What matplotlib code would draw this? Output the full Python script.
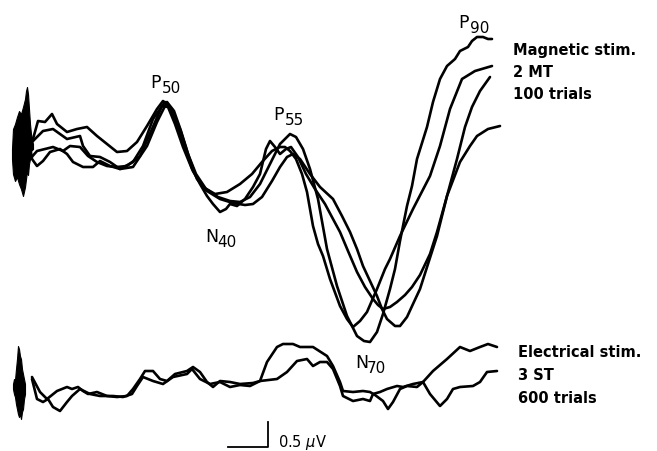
import numpy as np
import matplotlib
matplotlib.use("Agg")
import matplotlib.pyplot as plt

# time in ms after stimulus, amplitude in microvolts

# magnetic stimulation, 2 MT, 100 trials (4 averages)
mag1_t = [3.25, 4.5, 6.25, 8.0, 9.25, 11.75, 14.25, 16.75, 19.25, 21.75, 24.25, 26.75, 29.25, 31.75, 34.25, 35.75,
          37.5, 39.25, 41.25, 43.25, 45.75, 48.75, 51.75, 55.0, 58.0, 60.5, 63.0, 65.0, 66.25, 67.5, 69.0, 70.5,
          71.75, 73.25, 74.5, 75.75, 77.5, 80.0, 81.75, 83.25, 85.0, 86.75, 89.25, 91.25, 92.5, 95.0, 98.25,
          102.5, 105.0, 107.5, 110.5, 113.75, 118.0]
mag1_v = [0.20, 0.56, 0.54, 0.70, 0.50, 0.34, 0.40, 0.44, 0.26, 0.10, -0.06, -0.04, 0.14, 0.46, 0.80, 0.96,
          0.84, 0.50, 0.0, -0.44, -0.76, -0.90, -0.86, -0.70, -0.50, -0.26, -0.04, 0.04, 0.04, -0.04, -0.20, -0.50,
          -0.86, -1.54, -1.90, -2.14, -2.60, -3.14, -3.40, -3.56, -3.44, -3.26, -2.80, -2.40, -2.20, -1.74, -1.20,
          -0.54, 0.06, 0.80, 1.40, 1.56, 1.66]

mag2_t = [3.25, 5.75, 8.25, 11.75, 15.0, 15.75, 17.5, 20.0, 22.5, 25.0, 28.25, 30.75, 33.25, 36.25,
          38.0, 40.0, 42.0, 44.0, 46.5, 49.5, 52.5, 55.0, 57.5, 60.0, 62.5, 65.0, 67.5, 69.0, 70.75, 72.5,
          74.5, 76.75, 79.25, 81.75, 84.25, 86.0, 87.5, 89.25, 90.75, 92.5, 93.75, 95.0, 96.75, 98.0, 99.25,
          101.75, 103.25, 105.0, 106.75, 108.75, 110.0, 112.0, 113.0, 114.25, 115.75, 117.0, 118.0]
mag2_v = [0.16, 0.36, 0.40, 0.20, 0.26, 0.06, -0.14, -0.16, -0.26, -0.40, -0.26, 0.06, 0.60, 0.94,
          0.80, 0.40, -0.10, -0.50, -0.80, -0.96, -1.04, -1.06, -0.96, -0.70, -0.30, 0.10, 0.30, 0.24, 0.0, -0.40,
          -1.00, -2.00, -2.74, -3.34, -3.74, -3.84, -3.86, -3.66, -3.30, -2.80, -2.40, -1.84, -1.14, -0.74, -0.20,
          0.44, 0.94, 1.40, 1.66, 1.80, 1.96, 2.04, 2.16, 2.24, 2.24, 2.20, 2.20]

mag3_t = [2.5, 4.25, 6.25, 8.25, 10.75, 12.5, 15.0, 17.0, 19.25, 21.75, 24.25, 26.75, 30.0, 33.0, 35.5,
          37.0, 38.75, 40.75, 43.0, 45.0, 46.75, 48.25, 50.0, 51.5, 52.5, 54.25, 56.25, 58.25, 60.0, 61.5, 62.5,
          63.75, 65.0, 66.5, 67.75, 69.5, 71.5, 73.75, 76.25, 78.25, 80.0, 82.0, 84.25, 86.25, 88.25, 89.5, 90.75,
          92.5, 94.25, 96.25, 98.0, 100.0, 102.5, 104.25, 106.75, 109.25, 111.25, 113.0, 115.0, 117.5]
mag3_v = [-0.20, -0.04, 0.0, 0.04, -0.04, 0.06, 0.04, -0.14, -0.26, -0.34, -0.36, -0.34, -0.14, 0.40, 0.86,
          0.84, 0.50, 0.04, -0.40, -0.70, -0.94, -1.10, -1.26, -1.20, -1.10, -1.14, -1.00, -0.76, -0.50, 0.0, 0.16,
          0.04, -0.10, 0.0, 0.04, -0.16, -0.50, -0.80, -1.10, -1.40, -1.66, -2.04, -2.46, -2.76, -3.00, -3.12, -3.20,
          -3.16, -3.06, -2.92, -2.76, -2.52, -2.10, -1.66, -0.94, -0.20, 0.44, 0.84, 1.16, 1.44]

mag4_t = [2.5, 3.0, 4.25, 5.75, 7.5, 10.0, 11.75, 13.25, 15.75, 18.25, 20.0, 22.5, 25.0, 28.25, 31.75, 34.25, 36.75,
          38.5, 40.25, 42.25, 44.25, 46.75, 50.0, 53.25, 56.25, 58.25, 60.5, 63.0, 65.0, 66.75, 68.25, 70.0,
          72.5, 75.0, 78.25, 80.5, 82.5, 84.25, 85.75, 87.5, 89.25, 90.5, 91.75, 93.75, 95.0, 96.75, 98.25,
          100.0, 102.0, 104.25, 106.75, 110.0, 112.5, 114.25, 117.0, 120.0]
mag4_v = [0.06, -0.20, -0.34, -0.24, -0.06, 0.0, -0.10, -0.26, -0.36, -0.36, -0.24, -0.34, -0.40, -0.36, 0.06, 0.54, 0.94,
          0.76, 0.36, -0.16, -0.60, -0.84, -1.00, -1.08, -1.12, -1.10, -0.96, -0.64, -0.36, -0.16, -0.10, -0.20,
          -0.50, -0.76, -1.00, -1.34, -1.66, -2.00, -2.34, -2.64, -2.94, -3.20, -3.40, -3.54, -3.54, -3.36, -3.10,
          -2.80, -2.30, -1.74, -0.94, -0.26, 0.06, 0.26, 0.40, 0.46]

# stimulus artifact envelopes
mag_art_t = [-2.0, -1.75, -1.25, -0.75, -0.25, 0.25, 0.75, 1.25, 1.5, 1.75, 2.0, 2.25, 2.5, 2.75, 3.25]
mag_art_hi = [0.0, 0.40, 0.50, 0.64, 0.76, 0.70, 0.84, 1.00, 1.16, 1.24, 1.10, 0.80, 0.50, 0.30, 0.10]
mag_art_lo = [-0.20, -0.50, -0.64, -0.56, -0.70, -0.80, -0.94, -0.76, -0.60, -0.44, -0.52, -0.30, -0.20, -0.04, 0.0]

# electrical stimulation, 3 ST, 600 trials (2 averages)
elec1_t = [3.0, 5.0, 6.75, 9.25, 11.75, 13.0, 14.5, 15.75, 17.0, 19.25, 21.75, 24.25, 26.75, 28.25, 30.0, 31.25,
           33.25, 35.0, 36.75, 38.75, 41.75, 43.25, 45.0, 46.75, 48.25, 50.0, 52.5, 55.0, 58.25, 60.0, 61.75,
           64.25, 65.75, 68.25, 70.0, 73.25, 76.75, 78.25, 80.0, 80.75, 83.25, 85.75, 87.5, 88.75, 90.75, 92.0,
           93.25, 95.0, 96.75, 99.25, 100.75, 103.25, 106.75, 110.0, 112.5, 115.0, 117.0, 119.25]
elec1_v = [0.34, 0.04, -0.10, 0.06, 0.14, 0.10, 0.14, 0.06, 0.0, 0.04, -0.04, -0.06, -0.04, 0.10, 0.30, 0.46,
           0.46, 0.30, 0.26, 0.40, 0.46, 0.54, 0.44, 0.24, 0.14, 0.26, 0.24, 0.20, 0.22, 0.26, 0.64,
           0.94, 1.00, 1.00, 0.94, 0.94, 0.76, 0.56, 0.24, 0.06, 0.04, 0.06, 0.04, -0.02, -0.14, -0.30,
           -0.16, 0.10, 0.16, 0.14, 0.24, 0.46, 0.70, 0.94, 0.86, 0.94, 1.00, 0.94]

elec2_t = [3.0, 4.25, 5.75, 7.0, 8.25, 10.0, 11.75, 13.0, 15.0, 17.5, 20.0, 23.25, 25.75, 28.0, 29.25, 30.75,
           33.25, 35.75, 38.25, 41.75, 43.0, 45.0, 47.5, 50.0, 52.5, 55.0, 57.5, 60.0, 64.25, 66.75, 69.25,
           71.75, 73.25, 75.0, 76.75, 78.25, 80.0, 80.75, 83.25, 85.75, 87.5, 88.25, 90.0, 91.75, 94.25, 95.75,
           98.25, 100.75, 102.5, 105.0, 106.75, 108.25, 110.0, 113.25, 115.0, 116.75, 119.25]
elec2_v = [0.30, -0.10, -0.16, -0.10, -0.26, -0.34, -0.16, -0.04, 0.10, 0.0, -0.04, -0.04, -0.06, 0.0, 0.16, 0.34,
           0.26, 0.20, 0.34, 0.40, 0.50, 0.30, 0.20, 0.24, 0.14, 0.18, 0.16, 0.26, 0.30, 0.44, 0.66,
           0.70, 0.56, 0.64, 0.64, 0.50, 0.16, -0.04, -0.14, -0.10, -0.14, 0.0, 0.04, 0.10, 0.16, 0.14,
           0.20, 0.24, 0.0, -0.24, -0.10, 0.10, 0.14, 0.16, 0.24, 0.44, 0.46]

elec_art_t = [-1.75, -1.5, -1.25, -1.0, -0.75, -0.5, -0.25, 0.0, 0.25, 0.5, 0.75, 1.0, 1.25]
elec_art_hi = [0.20, 0.30, 0.28, 0.50, 0.70, 0.96, 0.90, 0.76, 0.70, 0.50, 0.40, 0.30, 0.20]
elec_art_lo = [0.10, 0.0, -0.06, -0.20, -0.30, -0.40, -0.46, -0.40, -0.50, -0.36, -0.30, -0.10, 0.0]

# component labels: name, subscript, time, amplitude
peaks = [("P", "50", 32.5, 1.24),
         ("P", "55", 63.25, 0.60),
         ("N", "40", 46.25, -1.84),
         ("P", "90", 109.5, 2.44),
         ("N", "70", 83.75, -4.36)]

mag_text = ["Magnetic stim.", "2 MT", "100 trials"]
elec_text = ["Electrical stim.", "3 ST", "600 trials"]

elec_offset = -4.9   # vertical shift of lower traces
lw = 1.9

fig = plt.figure(figsize=(6.57, 4.52), dpi=100)
ax = fig.add_axes([0, 0, 1, 1])
ax.set_xlim(-5, 159.25)
ax.set_ylim(-6.04, 3.0)
ax.axis("off")

for t, v in [(mag1_t, mag1_v), (mag2_t, mag2_v), (mag3_t, mag3_v), (mag4_t, mag4_v)]:
    ax.plot(t, v, color="black", lw=lw, solid_joinstyle="round", solid_capstyle="round")
ax.fill_between(mag_art_t, mag_art_lo, mag_art_hi, color="black", lw=0.8)

for t, v in [(elec1_t, elec1_v), (elec2_t, elec2_v)]:
    ax.plot(t, np.array(v) + elec_offset, color="black", lw=lw, solid_joinstyle="round", solid_capstyle="round")
ax.fill_between(elec_art_t, np.array(elec_art_lo) + elec_offset, np.array(elec_art_hi) + elec_offset,
                color="black", lw=0.8)

font = "DejaVu Sans"
for letter, sub, t, v in peaks:
    ax.text(t, v, letter, fontsize=12.5, family=font, ha="left", va="baseline")
    ax.annotate(sub, xy=(t, v), xytext=(8.5, -3.5), textcoords="offset points",
                fontsize=11, family=font, ha="left", va="baseline")

for i, s in enumerate(mag_text):
    ax.text(123.25, 1.90 - i * 0.44, s, fontsize=10.5, family=font, weight="bold", ha="left", va="baseline")
for i, s in enumerate(elec_text):
    ax.text(124.5, 0.76 + elec_offset - i * 0.46, s, fontsize=10.5, family=font, weight="bold",
            ha="left", va="baseline")

# scale bar: 10 ms, 0.5 uV
ax.plot([52, 62, 62], [-5.96, -5.96, -5.46], color="black", lw=1.3)
ax.text(64.5, -5.94, r"0.5 $\mu$V", fontsize=10.5, family=font, ha="left", va="baseline")

fig.savefig("out.png", dpi=100)
